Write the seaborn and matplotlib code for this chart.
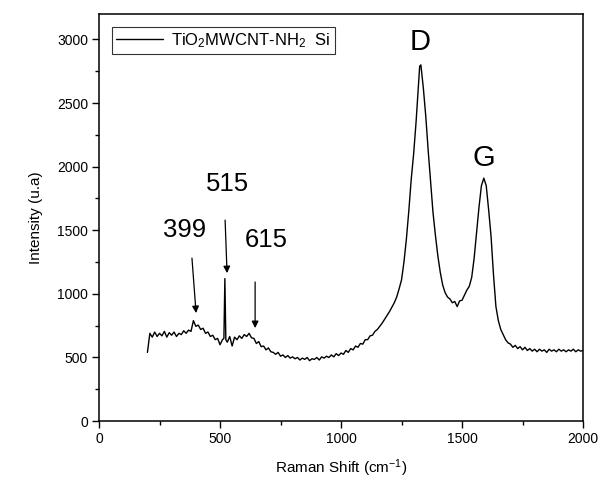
import matplotlib
matplotlib.use("Agg")
import matplotlib.pyplot as plt
import seaborn as sns
import pandas as pd
from matplotlib.ticker import MultipleLocator

# ---- data ----
raman_shift = [
    200, 210, 220, 230, 240, 250, 260, 270, 280, 290, 300, 310, 320, 330, 340,
    350, 360, 370, 380, 390, 400, 410, 420, 430, 440, 450, 460, 470, 480, 490,
    500, 510, 516, 520, 524, 530, 540, 550, 560, 570, 580, 590, 600, 610, 620,
    630, 640, 650, 660, 670, 680, 690, 700, 710, 720, 730, 740, 750, 760, 770,
    780, 790, 800, 810, 820, 830, 840, 850, 860, 870, 880, 890, 900, 910, 920,
    930, 940, 950, 960, 970, 980, 990, 1000, 1010, 1020, 1030, 1040, 1050, 1060,
    1070, 1080, 1090, 1100, 1110, 1120, 1130, 1140, 1150, 1160, 1170, 1180, 1190,
    1200, 1210, 1220, 1230, 1240, 1250, 1260, 1270, 1280, 1290, 1300, 1310, 1320,
    1325, 1330, 1340, 1350, 1360, 1370, 1380, 1390, 1400, 1410, 1420, 1430, 1440,
    1450, 1460, 1470, 1480, 1490, 1500, 1510, 1520, 1530, 1540, 1550, 1560, 1570,
    1580, 1590, 1600, 1610, 1620, 1630, 1640, 1650, 1660, 1670, 1680, 1690, 1700,
    1710, 1720, 1730, 1740, 1750, 1760, 1770, 1780, 1790, 1800, 1810, 1820, 1830,
    1840, 1850, 1860, 1870, 1880, 1890, 1900, 1910, 1920, 1930, 1940, 1950, 1960,
    1970, 1980, 1990, 2000,
]
intensity = [
    540, 690, 660, 700, 665, 690, 670, 705, 660, 695, 675, 700, 665, 690, 680,
    710, 690, 715, 705, 790, 745, 755, 720, 730, 690, 700, 665, 675, 640, 650,
    600, 640, 650, 1120, 640, 620, 665, 590, 660, 640, 670, 650, 680, 665, 690,
    655, 650, 610, 625, 585, 590, 560, 575, 545, 540, 525, 540, 510, 520, 500,
    515, 495, 505, 490, 500, 480, 495, 485, 500, 475, 490, 485, 500, 480, 505,
    495, 510, 500, 520, 505, 530, 515, 535, 525, 555, 540, 570, 560, 590,
    580, 610, 605, 640, 640, 670, 675, 705, 720, 745, 770, 800, 830,
    860, 895, 930, 975, 1040, 1110, 1250, 1430, 1650, 1900, 2100, 2350, 2650,
    2790, 2800, 2620, 2400, 2130, 1880, 1640, 1460, 1300, 1170, 1070, 1010, 975,
    960, 930, 940, 900, 945, 950, 990, 1030, 1060, 1130, 1280, 1480, 1680,
    1850, 1910, 1850, 1660, 1450, 1150, 900, 790, 720, 680, 640, 615, 605,
    580, 595, 570, 585, 560, 580, 555, 570, 550, 565, 545, 565, 550,
    560, 540, 565, 550, 560, 545, 565, 550, 560, 545, 560, 550, 565,
    545, 560, 550, 555,
]
series_label = "TiO$_2$MWCNT-NH$_2$  Si"
x_label = "Raman Shift (cm$^{-1}$)"
y_label = "Intensity (u.a)"
peak_labels = ["399", "515", "615"]
band_labels = ["D", "G"]

df = pd.DataFrame({"shift": raman_shift, "intensity": intensity})

sns.set_style("white")
plt.rcParams["font.family"] = ["Liberation Sans", "DejaVu Sans"]
plt.rcParams["mathtext.fontset"] = "custom"
plt.rcParams["mathtext.rm"] = "Liberation Sans"
plt.rcParams["mathtext.it"] = "Liberation Sans"
plt.rcParams["text.color"] = "black"
plt.rcParams["axes.labelcolor"] = "black"
plt.rcParams["xtick.color"] = "black"
plt.rcParams["ytick.color"] = "black"

fig = plt.figure(figsize=(6.02, 4.84), dpi=100)
ax = fig.add_axes([0.1645, 0.130, 0.804, 0.841])

sns.lineplot(data=df, x="shift", y="intensity", ax=ax, color="black",
             linewidth=1.0, estimator=None, sort=False, label=series_label)

ax.set_xlim(0, 2000)
ax.set_ylim(0, 3200)
ax.xaxis.set_major_locator(MultipleLocator(500))
ax.xaxis.set_minor_locator(MultipleLocator(250))
ax.yaxis.set_major_locator(MultipleLocator(500))
ax.yaxis.set_minor_locator(MultipleLocator(250))
ax.tick_params(which="major", direction="out", length=5, width=1,
               labelsize=10, bottom=True, left=True, top=False, right=False,
               pad=3, colors="black")
ax.tick_params(which="minor", direction="out", length=3, width=1,
               bottom=True, left=True, top=False, right=False, colors="black")
for s in ax.spines.values():
    s.set_linewidth(1.1)
    s.set_color("black")

ax.set_xlabel(x_label, fontsize=11, labelpad=8, color="black")
ax.set_ylabel(y_label, fontsize=11, labelpad=10, color="black")

# arrows + peak labels
arrow_props = dict(arrowstyle="-|>", color="black", lw=0.9,
                   mutation_scale=10, shrinkA=0, shrinkB=0)
ax.annotate("", xy=(401, 849), xytext=(384, 1281), arrowprops=arrow_props)
ax.annotate("", xy=(529, 1163), xytext=(521, 1580), arrowprops=arrow_props)
ax.annotate("", xy=(645, 731), xytext=(645, 1093), arrowprops=arrow_props)
ax.text(355, 1501, peak_labels[0], fontsize=18.5, ha="center", va="center", color="black")
ax.text(529, 1863, peak_labels[1], fontsize=18.5, ha="center", va="center", color="black")
ax.text(690, 1423, peak_labels[2], fontsize=18.5, ha="center", va="center", color="black")
ax.text(1326, 2980, band_labels[0], fontsize=21, ha="center", va="center", color="black")
ax.text(1591, 2070, band_labels[1], fontsize=21, ha="center", va="center", color="black")

leg = ax.legend(loc="upper left", bbox_to_anchor=(0.027, 0.968), fontsize=12,
                frameon=True, fancybox=False, handlelength=2.8,
                handletextpad=0.5, borderpad=0.25, borderaxespad=0)
leg.get_frame().set_edgecolor("black")
leg.get_frame().set_linewidth(0.8)
for t in leg.get_texts():
    t.set_color("black")

fig.savefig("out.png", dpi=100)
